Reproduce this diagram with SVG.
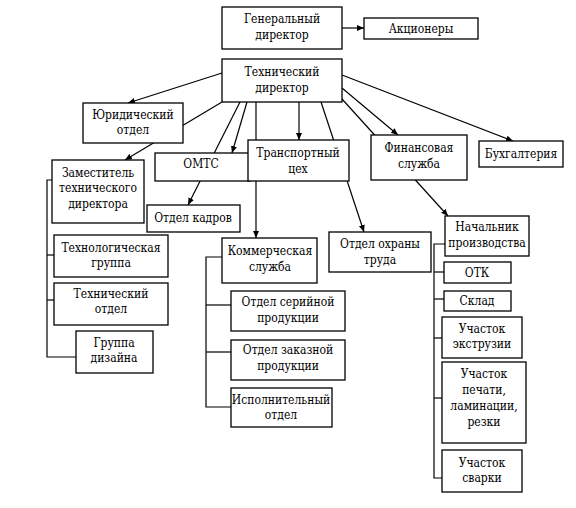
<svg xmlns="http://www.w3.org/2000/svg" width="576" height="508" viewBox="0 0 576 508" font-family="'DejaVu Serif', 'Liberation Serif', serif" font-size="12" font-stretch="condensed">
<defs>
<marker id="ah" markerWidth="8" markerHeight="8" refX="7" refY="4" orient="auto" markerUnits="userSpaceOnUse">
<path d="M0,1 L7,4 L0,7 Z" fill="#000"/>
</marker>
<style>
rect{fill:#fff;stroke:#000;stroke-width:1.3}
text{fill:#000;text-anchor:middle}
.c line,.c polyline{stroke:#000;stroke-width:1.2;fill:none}
.a{marker-end:url(#ah)}
</style>
</defs>
<rect x="0" y="0" width="576" height="508" style="fill:#fff;stroke:none"/>
<g id="connectors" class="c">
<line class="a" x1="342" y1="28" x2="364" y2="28"/>
<line class="a" x1="222" y1="73" x2="128" y2="103"/>
<line class="a" x1="222" y1="102" x2="125" y2="160"/>
<line class="a" x1="247" y1="102" x2="232" y2="153"/>
<line class="a" x1="240" y1="102" x2="188" y2="205"/>
<line class="a" x1="256" y1="102" x2="256" y2="238"/>
<line class="a" x1="299" y1="102" x2="299" y2="140"/>
<line class="a" x1="321" y1="102" x2="364" y2="232"/>
<line class="a" x1="342" y1="99" x2="448" y2="216"/>
<line class="a" x1="342" y1="88" x2="398" y2="135"/>
<line class="a" x1="342" y1="75" x2="513" y2="141"/>
<polyline points="52,180 47,180 47,357 76,357"/>
<line x1="47" y1="255" x2="54" y2="255"/>
<line x1="47" y1="300" x2="54" y2="300"/>
<polyline points="222,257 206,257 206,407 231,407"/>
<line x1="206" y1="305" x2="231" y2="305"/>
<line x1="206" y1="352" x2="231" y2="352"/>
<polyline points="445,244 434,244 434,478 442,478"/>
<line x1="434" y1="272" x2="444" y2="272"/>
<line x1="434" y1="299" x2="444" y2="299"/>
<line x1="434" y1="338" x2="442" y2="338"/>
<line x1="434" y1="398" x2="442" y2="398"/>
</g>
<g id="gen"><rect x="222" y="7" width="120" height="42"/><text x="282" y="23">Генеральный</text><text x="282" y="39">директор</text></g>
<g id="akc"><rect x="364" y="18" width="114" height="21"/><text x="421" y="33">Акционеры</text></g>
<g id="tech"><rect x="222" y="59" width="120" height="43"/><text x="282" y="76">Технический</text><text x="282" y="92">директор</text></g>
<g id="yur"><rect x="83" y="103" width="100" height="40"/><text x="133" y="119">Юридический</text><text x="133" y="134">отдел</text></g>
<g id="zam"><rect x="52" y="160" width="92" height="63"/><text x="98" y="177">Заместитель</text><text x="98" y="192">технического</text><text x="98" y="208">директора</text></g>
<g id="omts"><rect x="155" y="153" width="95" height="28"/><text x="201" y="168">ОМТС</text></g>
<g id="trans"><rect x="248" y="140" width="101" height="41"/><text x="298" y="157">Транспортный</text><text x="298" y="173">цех</text></g>
<g id="kadry"><rect x="147" y="205" width="93" height="27"/><text x="193" y="222">Отдел кадров</text></g>
<g id="fin"><rect x="371" y="135" width="96" height="45"/><text x="419" y="152">Финансовая</text><text x="419" y="168">служба</text></g>
<g id="buh"><rect x="479" y="141" width="84" height="26"/><text x="521" y="158">Бухгалтерия</text></g>
<g id="techgr"><rect x="54" y="235" width="114" height="42"/><text x="111" y="252">Технологическая</text><text x="111" y="267">группа</text></g>
<g id="techotd"><rect x="54" y="283" width="114" height="42"/><text x="111" y="298">Технический</text><text x="111" y="313">отдел</text></g>
<g id="design"><rect x="76" y="331" width="77" height="42"/><text x="114" y="347">Группа</text><text x="114" y="362">дизайна</text></g>
<g id="komm"><rect x="222" y="238" width="95" height="45"/><text x="270" y="255">Коммерческая</text><text x="270" y="271">служба</text></g>
<g id="serial"><rect x="231" y="291" width="114" height="40"/><text x="288" y="306">Отдел серийной</text><text x="288" y="322">продукции</text></g>
<g id="order"><rect x="231" y="340" width="114" height="40"/><text x="288" y="354">Отдел заказной</text><text x="288" y="370">продукции</text></g>
<g id="ispoln"><rect x="231" y="388" width="101" height="39"/><text x="281" y="404">Исполнительный</text><text x="281" y="419">отдел</text></g>
<g id="ohrana"><rect x="329" y="232" width="102" height="40"/><text x="380" y="248">Отдел охраны</text><text x="380" y="264">труда</text></g>
<g id="nach"><rect x="445" y="216" width="84" height="40"/><text x="487" y="231">Начальник</text><text x="487" y="247">производства</text></g>
<g id="otk"><rect x="444" y="262" width="67" height="21"/><text x="477" y="277">ОТК</text></g>
<g id="sklad"><rect x="444" y="291" width="67" height="20"/><text x="477" y="305">Склад</text></g>
<g id="extr"><rect x="442" y="317" width="80" height="41"/><text x="482" y="333">Участок</text><text x="482" y="348">экструзии</text></g>
<g id="pech"><rect x="442" y="362" width="84" height="81"/><text x="484" y="378">Участок</text><text x="484" y="394">печати,</text><text x="484" y="410">ламинации,</text><text x="484" y="426">резки</text></g>
<g id="svarka"><rect x="442" y="450" width="80" height="42"/><text x="482" y="467">Участок</text><text x="482" y="482">сварки</text></g>
</svg>
